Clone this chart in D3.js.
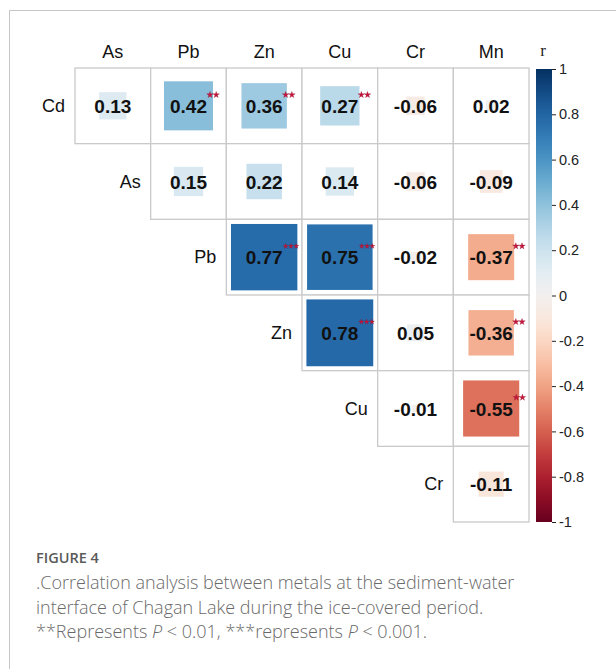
<!DOCTYPE html>
<html>
<head>
<meta charset="utf-8">
<script src="https://cdn.jsdelivr.net/npm/d3@7"></script>
<style>
  body { margin: 0; background: #fff; }
  svg { display: block; }
</style>
</head>
<body>
<div id="chart"></div>
<script>
// metals on the rows (left) and columns (top)
var rowMetals = ['Cd', 'As', 'Pb', 'Zn', 'Cu', 'Cr'];
var colMetals = ['As', 'Pb', 'Zn', 'Cu', 'Cr', 'Mn'];

// upper triangle of the correlation matrix, row by row
var rValues = [
    [0.13, 0.42, 0.36, 0.27, -0.06, 0.02],
    [0.15, 0.22, 0.14, -0.06, -0.09],
    [0.77, 0.75, -0.02, -0.37],
    [0.78, 0.05, -0.36],
    [-0.01, -0.55],
    [-0.11]
];

// significance marks, same layout
var sigMarks = [
    ['', '**', '**', '**', '', ''],
    ['', '', '', '', ''],
    ['***', '***', '', '**'],
    ['***', '', '**'],
    ['', '**'],
    ['']
];

var legendTicks = [1, 0.8, 0.6, 0.4, 0.2, 0, -0.2, -0.4, -0.6, -0.8, -1];
var legendLabels = ['1', '0.8', '0.6', '0.4', '0.2', '0', '-0.2', '-0.4', '-0.6', '-0.8', '-1'];

var width = 616, height = 669;

var svg = d3.select('#chart').append('svg')
    .attr('width', width)
    .attr('height', height);

// outer frame of the figure panel
svg.append('rect')
    .attr('x', 9.5).attr('y', 10.5)
    .attr('width', 700).attr('height', 700)
    .attr('fill', 'none')
    .attr('stroke', '#c6c6c6')
    .attr('stroke-width', 1);

var x = d3.scaleBand().domain(colMetals).range([75, 529]);
var y = d3.scaleBand().domain(rowMetals).range([68, 522]);
var cell = x.bandwidth();
var side = d3.scaleSqrt().domain([0, 1]).range([0, cell]);
var color = function(r) { return d3.interpolateRdBu((r + 1) / 2); };

// flatten into cells
var cells = [];
rValues.forEach(function(row, i) {
    row.forEach(function(v, k) {
        cells.push({row: rowMetals[i], col: colMetals[i + k], r: v, sig: sigMarks[i][k]});
    });
});

var g = svg.append('g');

g.selectAll('rect.cell')
    .data(cells)
    .enter().append('rect')
    .attr('class', 'cell')
    .attr('x', function(d) { return x(d.col); })
    .attr('y', function(d) { return y(d.row); })
    .attr('width', cell)
    .attr('height', cell)
    .attr('fill', '#fff')
    .attr('stroke', '#cacaca')
    .attr('stroke-width', 1.3);

g.selectAll('rect.sq')
    .data(cells)
    .enter().append('rect')
    .attr('class', 'sq')
    .attr('x', function(d) { return x(d.col) + (cell - side(Math.abs(d.r))) / 2; })
    .attr('y', function(d) { return y(d.row) + (cell - side(Math.abs(d.r))) / 2; })
    .attr('width', function(d) { return side(Math.abs(d.r)); })
    .attr('height', function(d) { return side(Math.abs(d.r)); })
    .attr('fill', function(d) { return color(d.r); });

var labels = g.selectAll('text.val')
    .data(cells)
    .enter().append('text')
    .attr('class', 'val')
    .attr('x', function(d) { return x(d.col) + cell / 2; })
    .attr('y', function(d) { return y(d.row) + cell / 2 + 7; })
    .attr('text-anchor', 'middle')
    .style('font-family', 'Liberation Sans, Arial, sans-serif')
    .style('font-weight', 'bold')
    .style('font-size', '19px')
    .style('fill', '#111')
    .text(function(d) { return d.r.toFixed(2); });

// stars next to the numbers
labels.each(function(d) {
    if (!d.sig) return;
    var bb = this.getBBox();
    var n = d.sig.length;
    var step = n == 3 ? 5.3 : 6.2;
    var sz = n == 3 ? 8 : 13;
    for (var s = 0; s < n; s++) {
        g.append('path')
            .attr('d', d3.symbol().type(d3.symbolStar).size(sz)())
            .attr('transform', 'translate(' + (bb.x + bb.width + 3 + s * step) + ',' + (y(d.row) + cell / 2 - 11) + ')')
            .attr('fill', '#c8143a')
            .attr('stroke', '#8a1030')
            .attr('stroke-width', 0.3);
    }
});

// column headers
g.selectAll('text.colh')
    .data(colMetals)
    .enter().append('text')
    .attr('x', function(d) { return x(d) + cell / 2; })
    .attr('y', 58)
    .attr('text-anchor', 'middle')
    .style('font-family', 'Liberation Sans, Arial, sans-serif')
    .style('font-size', '18px')
    .style('fill', '#111')
    .text(function(d) { return d; });

// row headers sit just left of the first cell of each row
g.selectAll('text.rowh')
    .data(rowMetals)
    .enter().append('text')
    .attr('x', function(d, i) { return x(colMetals[i]) - 10; })
    .attr('y', function(d) { return y(d) + cell / 2 + 6; })
    .attr('text-anchor', 'end')
    .style('font-family', 'Liberation Sans, Arial, sans-serif')
    .style('font-size', '18px')
    .style('fill', '#111')
    .text(function(d) { return d; });

// colour bar
var lx = 536, lw = 16;
var ly = d3.scaleLinear().domain([-1, 1]).range([522, 69]);

var grad = svg.append('defs').append('linearGradient')
    .attr('id', 'rgrad')
    .attr('x1', 0).attr('y1', 1).attr('x2', 0).attr('y2', 0);
d3.range(0, 1.0001, 0.05).forEach(function(t) {
    grad.append('stop')
        .attr('offset', t)
        .attr('stop-color', d3.interpolateRdBu(t));
});

svg.append('rect')
    .attr('x', lx).attr('y', ly(1))
    .attr('width', lw).attr('height', ly(-1) - ly(1))
    .attr('fill', 'url(#rgrad)');

var axis = svg.append('g')
    .attr('transform', 'translate(' + (lx + lw) + ',0)')
    .call(d3.axisRight(ly)
        .tickValues(legendTicks)
        .tickFormat(function(d, i) { return legendLabels[i]; })
        .tickSize(4)
        .tickPadding(3));
axis.select('.domain').remove();
axis.selectAll('line').attr('stroke', '#222');
axis.selectAll('text')
    .style('font-family', 'Liberation Sans, Arial, sans-serif')
    .style('font-size', '14.5px')
    .style('fill', '#222');

svg.append('text')
    .attr('x', lx + lw / 2 - 1)
    .attr('y', 56)
    .attr('text-anchor', 'middle')
    .style('font-family', 'Liberation Serif, Times New Roman, serif')
    .style('font-size', '17px')
    .style('fill', '#222')
    .text('r');

// caption
svg.append('text')
    .attr('x', 36).attr('y', 563)
    .style('font-family', 'Open Sans, sans-serif')
    .style('font-size', '14.5px')
    .style('font-weight', 600)
    .style('fill', '#5a5a5a')
    .text('FIGURE 4');

var capLines = [
    '.Correlation analysis between metals at the sediment-water',
    'interface of Chagan Lake during the ice-covered period.'
];
capLines.forEach(function(t, i) {
    svg.append('text')
        .attr('x', 36).attr('y', 589 + i * 24.5)
        .style('font-family', 'Open Sans, sans-serif')
        .style('font-size', '18px')
        .style('font-weight', 300)
        .style('fill', '#6a6a6a')
        .text(t);
});

var last = svg.append('text')
    .attr('x', 36).attr('y', 638)
    .style('font-family', 'Open Sans, sans-serif')
    .style('font-size', '18px')
    .style('font-weight', 300)
    .style('fill', '#6a6a6a');
last.append('tspan').text('**Represents ');
last.append('tspan').style('font-style', 'italic').text('P');
last.append('tspan').text(' < 0.01, ***represents ');
last.append('tspan').style('font-style', 'italic').text('P');
last.append('tspan').text(' < 0.001.');
</script>
</body>
</html>
